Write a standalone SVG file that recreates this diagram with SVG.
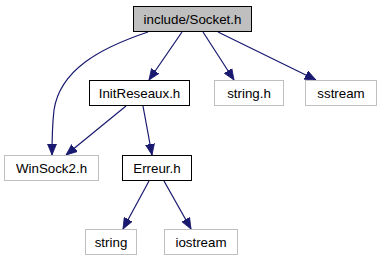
<svg xmlns="http://www.w3.org/2000/svg" width="380" height="261" viewBox="0 0 380 261">
  <style>
    .bg { fill: #ffffff; }
    .node rect { fill: #ffffff; stroke: #000000; stroke-width: 1; }
    .node.root rect { fill: #bfbfbf; }
    .node.ext rect { stroke: #bfbfbf; }
    .node text { font-family: "Liberation Sans", Arial, sans-serif; font-size: 13.33px; fill: #000000; text-anchor: middle; dominant-baseline: central; }
    .edges path { fill: none; stroke: #191970; stroke-width: 1.2; marker-end: url(#arrow); }
  </style>
  <defs>
    <marker id="arrow" viewBox="0 0 11 10" refX="11" refY="5" markerWidth="11" markerHeight="10" markerUnits="userSpaceOnUse" orient="auto">
      <path d="M0,0.5 L11,5 L0,9.5 Z" fill="#191970" stroke="#191970" stroke-width="0.8"/>
    </marker>
  </defs>
  <rect class="bg" x="0" y="0" width="380" height="261"/>

  <g class="edges">
    <!-- include/Socket.h -> WinSock2.h -->
    <path d="M148,32 C100,48 60,70 54,110 C52,128 52,140 52,155"/>
    <!-- include/Socket.h -> InitReseaux.h -->
    <path d="M182,32 L149,80"/>
    <!-- include/Socket.h -> string.h -->
    <path d="M203,32 L234,80"/>
    <!-- include/Socket.h -> sstream -->
    <path d="M218,32 L316,80"/>
    <!-- InitReseaux.h -> WinSock2.h -->
    <path d="M126,106 L66,155"/>
    <!-- InitReseaux.h -> Erreur.h -->
    <path d="M143,106 L152,155"/>
    <!-- Erreur.h -> string -->
    <path d="M149,181 L123,229"/>
    <!-- Erreur.h -> iostream -->
    <path d="M164,181 L191,229"/>
  </g>

  <g id="node-socket" class="node root">
    <rect x="133.5" y="6.5" width="118" height="25"/>
    <text x="192.5" y="19">include/Socket.h</text>
  </g>
  <g id="node-initreseaux" class="node">
    <rect x="89.5" y="80.5" width="100" height="25"/>
    <text x="139.5" y="93">InitReseaux.h</text>
  </g>
  <g id="node-stringh" class="node ext">
    <rect x="214.5" y="80.5" width="69" height="25"/>
    <text x="249" y="93">string.h</text>
  </g>
  <g id="node-sstream" class="node ext">
    <rect x="305.5" y="80.5" width="71" height="25"/>
    <text x="341" y="93">sstream</text>
  </g>
  <g id="node-winsock2" class="node ext">
    <rect x="4.5" y="155.5" width="94" height="25"/>
    <text x="51.5" y="168">WinSock2.h</text>
  </g>
  <g id="node-erreur" class="node">
    <rect x="122.5" y="155.5" width="69" height="25"/>
    <text x="157" y="168">Erreur.h</text>
  </g>
  <g id="node-string" class="node ext">
    <rect x="85.5" y="229.5" width="51" height="25"/>
    <text x="111" y="242">string</text>
  </g>
  <g id="node-iostream" class="node ext">
    <rect x="164.5" y="229.5" width="73" height="25"/>
    <text x="201" y="242">iostream</text>
  </g>
</svg>
